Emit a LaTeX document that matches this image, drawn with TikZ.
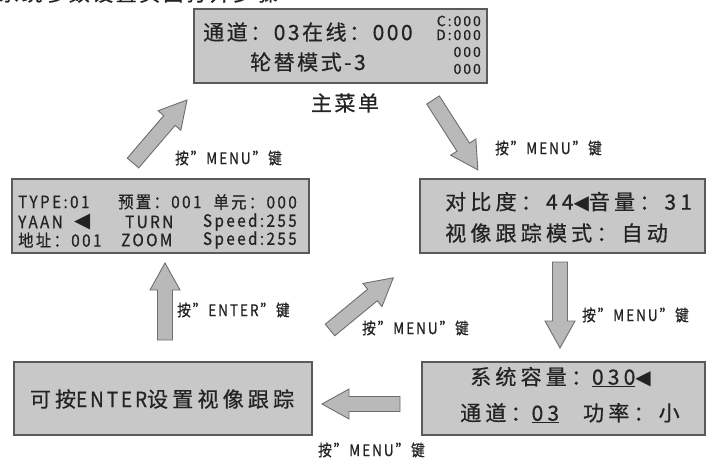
\documentclass[tikz,border=0pt]{standalone}
\usepackage{fontspec}
\setmainfont{Noto Sans CJK SC}
\newfontfamily\mainfont[LetterSpace=12,FakeBold=0.6]{Noto Sans CJK SC}
\newfontfamily\lcdfont[LetterSpace=20,FakeBold=0.6]{Noto Sans CJK SC}
\newfontfamily\lcdcond[FakeStretch=0.9,LetterSpace=14,FakeBold=0.6]{Noto Sans CJK SC}
\newfontfamily\lblfont[FakeStretch=0.85,LetterSpace=12,FakeBold=0.8]{Noto Sans CJK SC}
\newfontfamily\smallfont[LetterSpace=14,FakeBold=0.4]{Noto Sans CJK SC}
\newfontfamily\symfont{DejaVu Sans}
\definecolor{boxfill}{RGB}{200,200,200}
\definecolor{boxline}{RGB}{90,90,90}
\definecolor{arrfill}{RGB}{185,185,185}
\definecolor{arrline}{RGB}{110,110,110}
\definecolor{txt}{RGB}{35,35,35}
\newcommand\tri{{\symfont\char"25C0}}
\tikzset{
  lcdbox/.style={draw=boxline, fill=boxfill, line width=1.4pt, inner sep=0pt},
  mainbig/.style={text=txt, inner sep=0pt, font=\mainfont\fontsize{21}{21}\selectfont},
  big/.style={text=txt, inner sep=0pt, font=\lcdfont\fontsize{21}{21}\selectfont},
  mid/.style={text=txt, inner sep=0pt, font=\lcdcond\fontsize{17}{17}\selectfont},
  small/.style={text=txt, inner sep=0pt, font=\smallfont\fontsize{14}{14}\selectfont},
  lbl/.style={text=txt, inner sep=0pt, anchor=west, font=\lblfont\fontsize{16}{16}\selectfont},
  arrsty/.style={draw=arrline, fill=arrfill, line width=0.9pt, line join=miter},
  pics/barrow/.style={code={
    \draw[arrsty] (0,-7.5) -- (#1-27,-7.5) -- (#1-27,-15) -- (#1,0) -- (#1-27,15) -- (#1-27,7.5) -- (0,7.5) -- cycle;}}
}
\begin{document}
\begin{tikzpicture}[x=1pt,y=-1pt]
\useasboundingbox (0,0) rectangle (708,463);
\clip (0,0) rectangle (708,463);
% title (cut off at top, as in the reference)
\node[mainbig, anchor=west] (title) at (-2,-7) {系统参数设置页面打开步骤};
% boxes
\node[lcdbox, minimum width=293, minimum height=74] (main) at (340.5,46) {};
\node[lcdbox, minimum width=297, minimum height=74] (type) at (160.5,216) {};
\node[lcdbox, minimum width=285, minimum height=74] (contrast) at (562.5,216) {};
\node[lcdbox, minimum width=298, minimum height=73] (enter) at (163,398.5) {};
\node[lcdbox, minimum width=283, minimum height=73] (capacity) at (563.5,398.5) {};
% main box text
\node[mainbig, anchor=west] (m1) at (203,32) {通道：03在线：000};
\node[mainbig, anchor=west] (m2) at (250,62) {轮替模式-3};
\node[small, anchor=east] (mc) at (481,21) {C:000};
\node[small, anchor=east] (md) at (481,35) {D:000};
\node[small, anchor=east] (me) at (481,52) {000};
\node[small, anchor=east] (mf) at (481,69) {000};
\node[mainbig] (menu) at (345,103) {主菜单};
% type box text
\node[mid, anchor=west] (t1) at (18,202) {TYPE:01};
\node[mid, anchor=west] (t2) at (118,202) {预置：001};
\node[mid, anchor=east] (t3) at (297,202) {单元：000};
\node[mid, anchor=west] (t4) at (18,222) {YAAN};
\node[text=txt, inner sep=0pt, anchor=west, font=\fontsize{21}{21}\selectfont] (t5) at (74,222) {\tri};
\node[mid, anchor=west] (t6) at (125,222) {TURN};
\node[mid, anchor=east] (t7) at (297,222) {Speed:255};
\node[mid, anchor=west] (t8) at (18,240) {地址：001};
\node[mid, anchor=west] (t9) at (121,240) {ZOOM};
\node[mid, anchor=east] (t10) at (297,240) {Speed:255};
% contrast box
\node[big, anchor=west] (c1) at (445,202) {对比度：44{\fontsize{20}{20}\selectfont\tri}音量：31};
\node[big, anchor=west] (c2) at (445,233) {视像跟踪模式：自动};
% enter box
\node[big] (e1) at (162,399) {可按{\lcdcond\fontsize{21}{21}\selectfont ENTER}设置视像跟踪};
% capacity box
\node[big, anchor=west] (k1) at (470,377) {系统容量：\underline{030}{\fontsize{20}{20}\selectfont\tri}};
\node[big, anchor=west] (k2) at (460,413) {通道：\underline{03}\hspace{24pt}功率：小};
% arrows
\pic (a1) [rotate=49.4] at (133,163) {barrow=83};
\pic (a2) [rotate=-57.3] at (433,100) {barrow=83};
\pic (a3) [rotate=-90] at (560,262) {barrow=86};
\pic (a4) [rotate=180] at (400,404) {barrow=78};
\pic (a5) [rotate=90] at (165,340) {barrow=77};
\pic (a6) [rotate=39.5] at (330,330) {barrow=82};
% labels
\node[lbl] (l1) at (175,158) {按”MENU”键};
\node[lbl] (l2) at (495,148) {按”MENU”键};
\node[lbl] (l3) at (582,315) {按”MENU”键};
\node[lbl] (l4) at (318,450) {按”MENU”键};
\node[lbl] (l5) at (177,310) {按”ENTER”键};
\node[lbl] (l6) at (362,328) {按”MENU”键};
\end{tikzpicture}
\end{document}
